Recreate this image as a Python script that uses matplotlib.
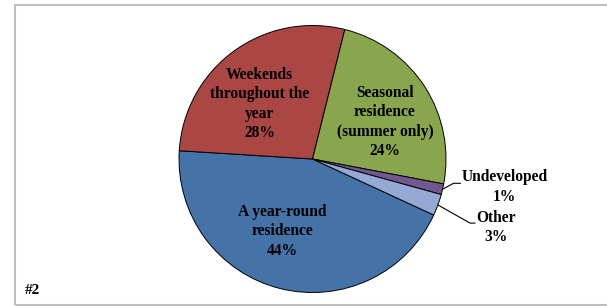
import matplotlib.pyplot as plt
import numpy as np
from matplotlib.patches import Rectangle

# data
categorias = ['A year-round\nresidence', 'Weekends\nthroughout the\nyear',
              'Seasonal\nresidence\n(summer only)', 'Undeveloped', 'Other']
valores = [44.1, 27.9, 24.1, 1.3, 2.6]
cores = ['#4572A7', '#AA4643', '#89A54E', '#71588F', '#94A9D3']

plt.rcParams['font.family'] = ['Liberation Serif', 'DejaVu Serif']

fig = plt.figure(figsize=(6.07, 3.07), dpi=100)

# moldura cinza
fig.patches.append(Rectangle((15 / 607, 2 / 307), 600 / 607, 300 / 307,
                             transform=fig.transFigure, fill=False,
                             edgecolor='#BFBFBF', linewidth=1.5))

ax = fig.add_axes([0.2949, 0.0472, 0.4399, 0.8697], frameon=False)
wedges, _ = ax.pie(valores, colors=cores, startangle=-24.8, counterclock=False,
                   radius=1.0, wedgeprops=dict(edgecolor='black', linewidth=0.7))
ax.set_xlim(-1, 1)
ax.set_ylim(-1, 1)
ax.set_aspect('equal')
ax.axis('off')

fs = 11.2
ls = 1.28
# rotulos internos (raio, desvio de angulo)
pos_int = {0: (0.587, -8.7), 1: (0.573, 7.7), 2: (0.609, -5.5)}
for i, (r, dang) in pos_int.items():
    w = wedges[i]
    ang = np.deg2rad((w.theta1 + w.theta2) / 2 + dang)
    txt = categorias[i] + '\n' + str(int(round(valores[i]))) + '%'
    ax.text(r * np.cos(ang), r * np.sin(ang), txt, ha='center', va='center',
            fontsize=fs, fontweight='bold', linespacing=ls)

# rotulos externos com linha guia
externos = {3: ((1.056, -0.182), (1.107, -0.182), (1.118, -0.21)),
            4: ((1.18, -0.48), (1.217, -0.48), (1.23, -0.513))}
for i, (p1, p2, pt) in externos.items():
    w = wedges[i]
    ang = np.deg2rad((w.theta1 + w.theta2) / 2)
    x0, y0 = np.cos(ang), np.sin(ang)
    ax.plot([x0, p1[0], p2[0]], [y0, p1[1], p2[1]], color='black',
            linewidth=0.8, clip_on=False)
    txt = categorias[i] + '\n' + str(int(round(valores[i]))) + '%'
    ax.text(pt[0], pt[1], txt, ha='left', va='center', multialignment='center',
            fontsize=fs, fontweight='bold', linespacing=ls)

fig.text(25 / 607, 1 - 290 / 307, '#2', ha='left', va='center',
         fontsize=11, fontweight='bold')

fig.savefig('out.png', dpi=100)
